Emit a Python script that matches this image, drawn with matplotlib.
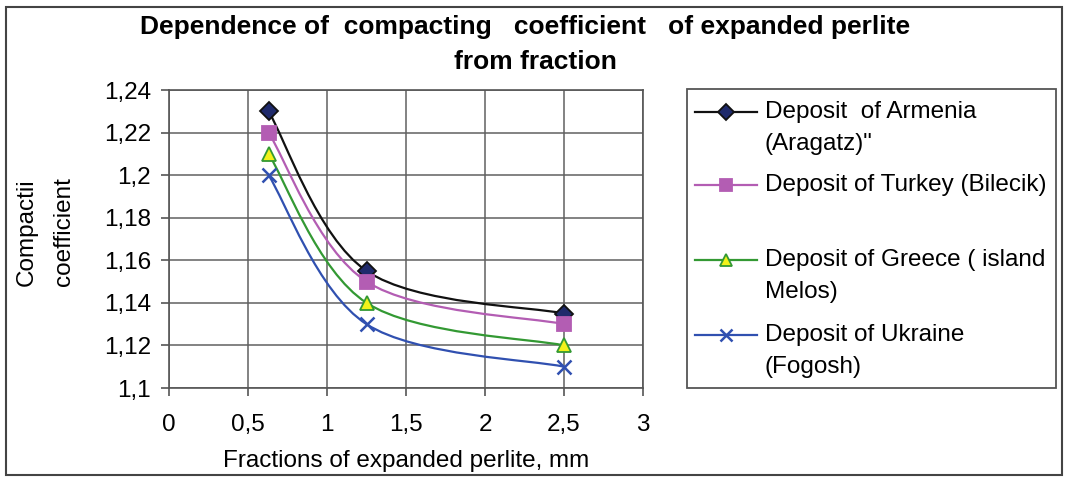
import numpy as np
import matplotlib
matplotlib.use("Agg")
import matplotlib.pyplot as plt
from matplotlib.path import Path
from matplotlib.patches import PathPatch, Rectangle
from matplotlib.lines import Line2D

plt.rcParams['font.family'] = ['Liberation Sans', 'DejaVu Sans']

# data
fractions = [0.63, 1.25, 2.5]
armenia = [1.23, 1.155, 1.135]
turkey = [1.22, 1.15, 1.13]
greece = [1.21, 1.14, 1.12]
ukraine = [1.20, 1.13, 1.11]

series_labels = [["Deposit  of Armenia", "(Aragatz)\""],
                 ["Deposit of Turkey (Bilecik)"],
                 ["Deposit of Greece ( island", "Melos)"],
                 ["Deposit of Ukraine", "(Fogosh)"]]

x_ticks = [0, 0.5, 1, 1.5, 2, 2.5, 3]
y_ticks = [1.1, 1.12, 1.14, 1.16, 1.18, 1.2, 1.22, 1.24]

# styles: line color, marker, face, edge, size
styles = [
    ("#111111", "D", "#1f2a6b", "#111111", 9),
    ("#b35db3", "s", "#b35db3", "#b35db3", 9.5),
    ("#339933", "^", "#f2f21a", "#339933", 10.5),
    ("#3050b0", "x", "#3050b0", "#3050b0", 10.5),
]

fs = 17.5

W, H = 1065, 479
fig = plt.figure(figsize=(W / 100, H / 100), dpi=100)
ax = fig.add_axes([169 / W, 1 - 388 / H, (643 - 169) / W, (388 - 90) / H])

ax.set_xlim(0, 3)
ax.set_ylim(1.1, 1.24)
ax.set_xticks(x_ticks)
ax.set_yticks(y_ticks)
ax.set_xticklabels([('%g' % v).replace('.', ',') for v in x_ticks])
ax.set_yticklabels([('%g' % v).replace('.', ',') for v in y_ticks])
ax.tick_params(labelsize=fs, length=6, width=1.2, color='#555555')
ax.tick_params(axis='x', pad=13)
ax.tick_params(axis='y', pad=7)
ax.grid(True, color='#606060', lw=1.1)
ax.set_axisbelow(True)
for s in ax.spines.values():
    s.set_color('#555555')
    s.set_linewidth(1.2)

ax.set_xlabel("Fractions of expanded perlite, mm", fontsize=fs, labelpad=10)


def smooth_path(xs, ys):
    # Excel-like smoothed line (Bezier with Catmull-Rom tangents in screen space)
    pts = ax.transData.transform(np.column_stack([xs, ys]))
    n = len(pts)
    verts = [pts[0]]
    codes = [Path.MOVETO]
    for i in range(n - 1):
        p0 = pts[i - 1] if i > 0 else pts[i]
        p1 = pts[i]
        p2 = pts[i + 1]
        p3 = pts[i + 2] if i + 2 < n else pts[i + 1]
        verts += [p1 + (p2 - p0) / 6, p2 - (p3 - p1) / 6, p2]
        codes += [Path.CURVE4] * 3
    return Path(ax.transData.inverted().transform(np.array(verts)), codes)


for ys, (lc, mk, fc, ec, ms) in zip([armenia, turkey, greece, ukraine], styles):
    ax.add_patch(PathPatch(smooth_path(fractions, ys), facecolor='none', edgecolor=lc, lw=1.6))
    ax.plot(fractions, ys, ls='none', marker=mk, markersize=ms, markerfacecolor=fc,
            markeredgecolor=ec, markeredgewidth=1.8 if mk == 'x' else 1.3)

# title
fig.text(0.493, 1 - 27 / H, "Dependence of  compacting   coefficient   of expanded perlite",
         ha='center', va='center', fontsize=19, fontweight='bold')
fig.text(0.503, 1 - 62 / H, "from fraction", ha='center', va='center', fontsize=19, fontweight='bold')

# y label
fig.text(27 / W, 1 - 232 / H, "Compactii", rotation=90, ha='center', va='center', fontsize=fs)
fig.text(64 / W, 1 - 232 / H, "coefficient", rotation=90, ha='center', va='center', fontsize=fs)

# legend box drawn by hand (markers sit on the first line of each entry)
fig.add_artist(Rectangle((687 / W, 1 - 388 / H), (1056 - 687) / W, (388 - 89) / H,
                         transform=fig.transFigure, fill=False, ec='#555555', lw=1.3))
entry_y = [112, 185, 260, 335]
for (lc, mk, fc, ec, ms), lines, y0 in zip(styles, series_labels, entry_y):
    fig.add_artist(Line2D([695 / W, 726 / W, 757 / W], [1 - y0 / H] * 3, transform=fig.transFigure,
                          color=lc, lw=1.6, marker=mk, markevery=[1], markersize=ms * 0.85,
                          markerfacecolor=fc, markeredgecolor=ec,
                          markeredgewidth=1.8 if mk == 'x' else 1.3))
    for k, line in enumerate(lines):
        fig.text(765 / W, 1 - (y0 + 32 * k) / H, line, ha='left', va='center', fontsize=fs)

# outer frame
fig.add_artist(Rectangle((6 / W, 4 / H), (1062 - 6) / W, (472 - 4) / H,
                         transform=fig.transFigure, fill=False, ec='#444444', lw=1.5))

fig.savefig("out.png", dpi=100)
